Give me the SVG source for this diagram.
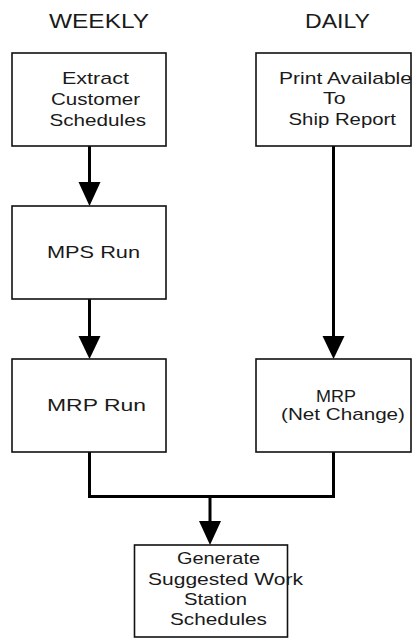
<svg xmlns="http://www.w3.org/2000/svg" width="413" height="639" viewBox="0 0 413 639">
<style>
.box{fill:#fff;stroke:#111;stroke-width:1.6}
.t{font-family:"Liberation Sans",Arial,sans-serif;font-size:17px;fill:#1a1a1a}
.h{font-family:"Liberation Sans",Arial,sans-serif;font-size:20px;fill:#1a1a1a}
.ln{fill:none;stroke:#000;stroke-width:3}
.ah{fill:#000}
</style>
<rect width="413" height="639" fill="#fff"/>
<g id="titles">
<text class="h" x="49" y="28" textLength="100" lengthAdjust="spacingAndGlyphs">WEEKLY</text>
<text class="h" x="305" y="28" textLength="65" lengthAdjust="spacingAndGlyphs">DAILY</text>
</g>
<g id="connectors">
<line class="ln" x1="89.5" y1="146" x2="89.5" y2="184"/>
<polygon class="ah" points="78.5,182 100.5,182 89.5,206"/>
<line class="ln" x1="89.5" y1="299" x2="89.5" y2="338"/>
<polygon class="ah" points="78.5,336 100.5,336 89.5,359"/>
<line class="ln" x1="333.5" y1="146" x2="333.5" y2="338"/>
<polygon class="ah" points="322.5,336 344.5,336 333.5,359"/>
<path class="ln" d="M89.5 452 V496.5 H333.5 V452"/>
<line class="ln" x1="210" y1="496.5" x2="210" y2="523"/>
<polygon class="ah" points="199,521 221,521 210,545"/>
</g>
<g id="extract">
<rect class="box" x="12" y="53" width="154" height="93"/>
<text class="t" x="62" y="83.5" textLength="67" lengthAdjust="spacingAndGlyphs">Extract</text>
<text class="t" x="51" y="104.5" textLength="89" lengthAdjust="spacingAndGlyphs">Customer</text>
<text class="t" x="49.5" y="125.5" textLength="96.5" lengthAdjust="spacingAndGlyphs">Schedules</text>
</g>
<g id="print">
<rect class="box" x="256" y="53" width="155" height="93"/>
<text class="t" x="279" y="83.5" textLength="133" lengthAdjust="spacingAndGlyphs">Print Available</text>
<text class="t" x="323" y="104" textLength="22.5" lengthAdjust="spacingAndGlyphs">To</text>
<text class="t" x="288.5" y="124.5" textLength="107.5" lengthAdjust="spacingAndGlyphs">Ship Report</text>
</g>
<g id="mps">
<rect class="box" x="12" y="206" width="154" height="93"/>
<text class="t" x="47" y="258" textLength="93" lengthAdjust="spacingAndGlyphs">MPS Run</text>
</g>
<g id="mrp">
<rect class="box" x="12" y="359" width="154" height="93"/>
<text class="t" x="47" y="411" textLength="99" lengthAdjust="spacingAndGlyphs">MRP Run</text>
</g>
<g id="mrpnet">
<rect class="box" x="256" y="359" width="155" height="93"/>
<text class="t" x="316" y="402" textLength="40" lengthAdjust="spacingAndGlyphs">MRP</text>
<text class="t" x="281" y="420" textLength="124" lengthAdjust="spacingAndGlyphs">(Net Change)</text>
</g>
<g id="generate">
<rect class="box" x="134.5" y="545" width="153" height="92"/>
<text class="t" x="177" y="564" textLength="83" lengthAdjust="spacingAndGlyphs">Generate</text>
<text class="t" x="148" y="585" textLength="155" lengthAdjust="spacingAndGlyphs">Suggested Work</text>
<text class="t" x="184" y="605" textLength="63" lengthAdjust="spacingAndGlyphs">Station</text>
<text class="t" x="170" y="625" textLength="97" lengthAdjust="spacingAndGlyphs">Schedules</text>
</g>
</svg>
